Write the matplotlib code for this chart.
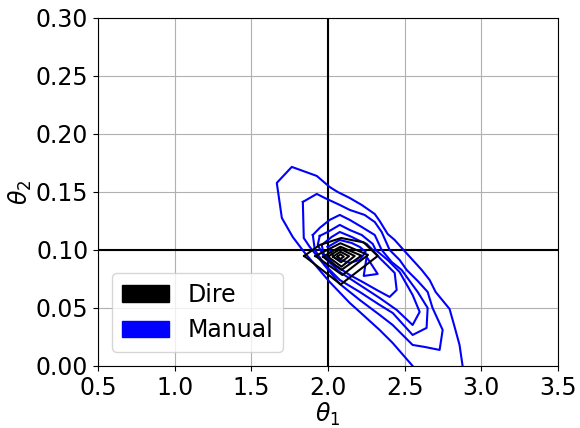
import matplotlib
matplotlib.use('Agg')
import matplotlib.pyplot as plt
from matplotlib.patches import Patch

# contour lines (theta1, theta2)
# "Manual" - blue, outer to inner; the outer one is cut by theta2 = 0
manual_a_x = [2.552, 2.422, 2.337, 2.207, 2.142, 2.011, 1.933, 1.849, 1.770, 1.699, 1.666, 1.764, 1.927,
              2.011, 2.063, 2.142, 2.220, 2.305, 2.337, 2.389, 2.435, 2.493, 2.552, 2.611, 2.663, 2.702,
              2.793, 2.826, 2.858, 2.878]
manual_a_y = [0.0, 0.0198, 0.0310, 0.0466, 0.0543, 0.0724, 0.0845, 0.0974, 0.1112, 0.1276, 0.1578, 0.1716, 0.1638,
              0.1543, 0.1500, 0.1448, 0.1388, 0.1310, 0.1250, 0.1138, 0.1086, 0.1000, 0.0914, 0.0828, 0.0741, 0.0638,
              0.0491, 0.0336, 0.0181, 0.0]
manual_b_x = [1.836, 1.927, 1.979, 2.077, 2.142, 2.239, 2.305, 2.350, 2.402, 2.467, 2.513, 2.585, 2.650,
              2.682, 2.748, 2.728, 2.630, 2.552, 2.422, 2.337, 2.207, 2.077, 1.933, 1.881, 1.842, 1.836]
manual_b_y = [0.1414, 0.1483, 0.1448, 0.1388, 0.1345, 0.1302, 0.1241, 0.1155, 0.1000, 0.0914, 0.0828, 0.0733, 0.0638,
              0.0500, 0.0310, 0.0138, 0.0164, 0.0181, 0.0353, 0.0440, 0.0569, 0.0707, 0.0940, 0.1026, 0.1103, 0.1414]
manual_c_x = [1.901, 1.946, 2.011, 2.077, 2.142, 2.220, 2.305, 2.350, 2.415, 2.480, 2.585, 2.650, 2.643,
              2.552, 2.422, 2.337, 2.207, 2.077, 1.979, 1.914, 1.901]
manual_c_y = [0.1129, 0.1190, 0.1259, 0.1302, 0.1259, 0.1198, 0.1129, 0.1000, 0.0897, 0.0828, 0.0638, 0.0500, 0.0328,
              0.0267, 0.0457, 0.0526, 0.0638, 0.0741, 0.0871, 0.1000, 0.1129]
manual_d_x = [1.946, 1.998, 2.077, 2.142, 2.220, 2.292, 2.311, 2.389, 2.467, 2.552, 2.598, 2.552, 2.448,
              2.337, 2.207, 2.077, 1.979, 1.933, 1.946]
manual_d_y = [0.1121, 0.1155, 0.1216, 0.1172, 0.1129, 0.1052, 0.1000, 0.0914, 0.0810, 0.0612, 0.0466, 0.0353, 0.0483,
              0.0586, 0.0698, 0.0810, 0.0931, 0.1043, 0.1121]
manual_e_x = [1.959, 2.024, 2.077, 2.155, 2.194, 2.252, 2.292, 2.337, 2.383, 2.435, 2.448, 2.402, 2.318,
              2.226, 2.142, 2.044, 1.972, 1.959]
manual_e_y = [0.1043, 0.1112, 0.1155, 0.1112, 0.1086, 0.1052, 0.1000, 0.0931, 0.0871, 0.0802, 0.0655, 0.0595, 0.0655,
              0.0724, 0.0784, 0.0871, 0.0966, 0.1043]
manual_f_x = [1.998, 2.077, 2.155, 2.207, 2.246, 2.207, 2.142, 2.044, 1.998]
manual_f_y = [0.1026, 0.1086, 0.1060, 0.1026, 0.0983, 0.0914, 0.0888, 0.0931, 0.1026]
manual_g_x = [2.252, 2.324, 2.233, 2.252]
manual_g_y = [0.0940, 0.0793, 0.0776, 0.0940]

# "Dire" - black, nested diamonds
dire_x = [
    [1.845, 1.946, 2.086, 2.233, 2.324, 2.083, 1.845],
    [1.918, 2.081, 2.261, 2.094, 1.918],
    [1.968, 2.081, 2.218, 2.088, 1.968],
    [2.000, 2.081, 2.174, 2.088, 2.000],
    [2.033, 2.081, 2.137, 2.085, 2.033],
    [2.062, 2.081, 2.103, 2.081, 2.062],
]
dire_y = [
    [0.0948, 0.1043, 0.1103, 0.1065, 0.0948, 0.0703, 0.0948],
    [0.0948, 0.1058, 0.0957, 0.0784, 0.0948],
    [0.0942, 0.1028, 0.0951, 0.0828, 0.0942],
    [0.0942, 0.1009, 0.0948, 0.0856, 0.0942],
    [0.0942, 0.0985, 0.0946, 0.0894, 0.0942],
    [0.0942, 0.0963, 0.0942, 0.0922, 0.0942],
]

true_theta1 = 2.0
true_theta2 = 0.1

fig = plt.figure(figsize=(5.8, 4.28), dpi=100)
ax = fig.add_axes([0.169, 0.145, 0.793, 0.813])

manual_x = [manual_a_x, manual_b_x, manual_c_x, manual_d_x, manual_e_x, manual_f_x, manual_g_x]
manual_y = [manual_a_y, manual_b_y, manual_c_y, manual_d_y, manual_e_y, manual_f_y, manual_g_y]
for xs, ys in zip(manual_x, manual_y):
    ax.plot(xs, ys, color='blue', lw=1.5, zorder=3)
for xs, ys in zip(dire_x, dire_y):
    ax.plot(xs, ys, color='black', lw=1.5, zorder=4)

ax.axvline(true_theta1, color='black', lw=1.5, zorder=2)
ax.axhline(true_theta2, color='black', lw=1.5, zorder=2)

ax.set_xlim(0.5, 3.5)
ax.set_ylim(0.0, 0.3)
ax.set_xticks([0.5, 1.0, 1.5, 2.0, 2.5, 3.0, 3.5])
ax.set_yticks([0.0, 0.05, 0.10, 0.15, 0.20, 0.25, 0.30])
ax.set_yticklabels(['0.00', '0.05', '0.10', '0.15', '0.20', '0.25', '0.30'])
ax.tick_params(labelsize=17)
ax.grid(True, color='#b0b0b0', lw=0.8)
ax.set_axisbelow(True)
ax.set_xlabel(r'$\theta_1$', fontsize=17, labelpad=1)
ax.set_ylabel(r'$\theta_2$', fontsize=17, labelpad=1)

handles = [Patch(color='black', label='Dire'), Patch(color='blue', label='Manual')]
ax.legend(handles=handles, loc='lower left', fontsize=17, borderaxespad=0.6)

fig.savefig('out.png', dpi=100)
